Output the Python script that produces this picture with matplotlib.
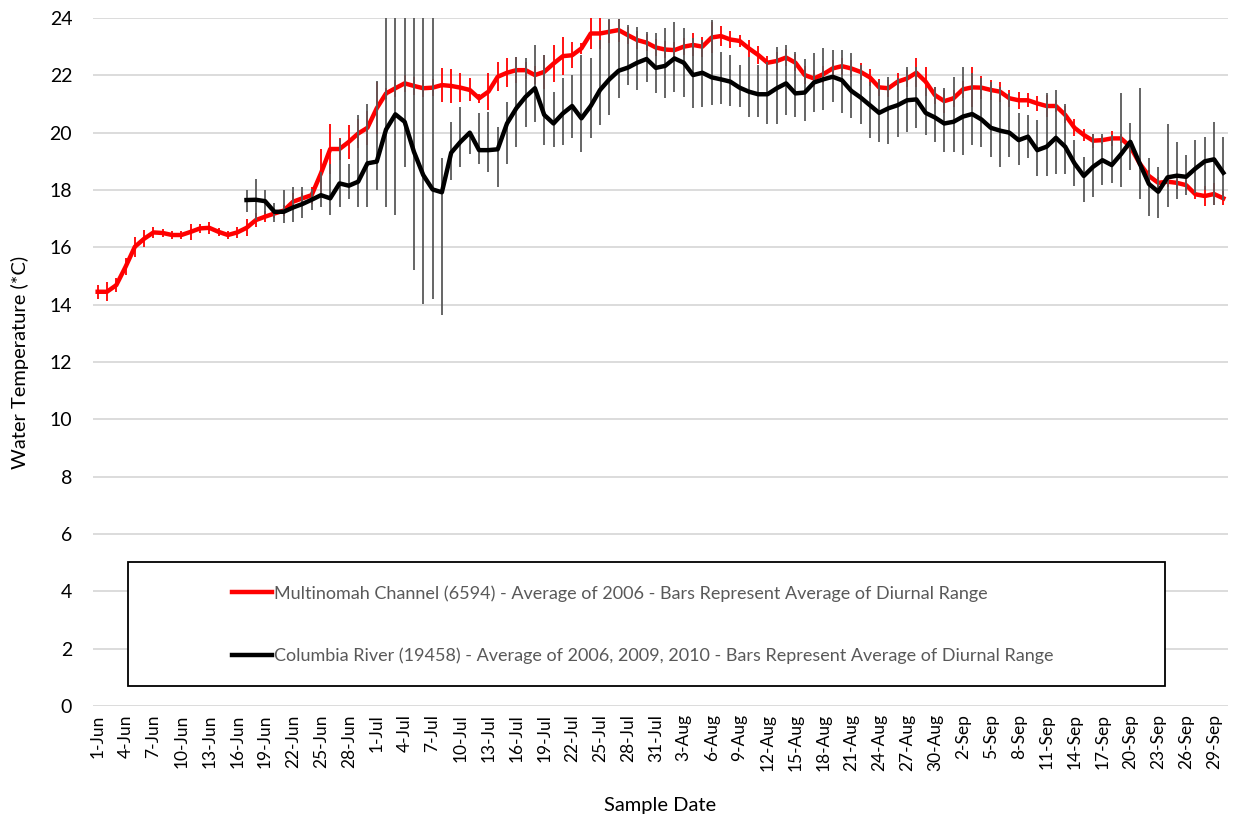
import numpy as np
import pandas as pd
import matplotlib
matplotlib.use("Agg")
import matplotlib.pyplot as plt
from matplotlib.patches import Rectangle

# ---------------- data ----------------
dates = pd.date_range("2006-06-01", "2006-09-30", freq="D")
date_labels = [f"{d.day}-{d.strftime('%b')}" for d in dates]

multnomah_label = "Multinomah Channel (6594) - Average of 2006 - Bars Represent Average of Diurnal Range"
columbia_label = "Columbia River (19458) - Average of 2006, 2009, 2010 - Bars Represent Average of Diurnal Range"

multnomah_avg = [
    14.45, 14.45, 14.68, 15.32, 16.02, 16.30, 16.52, 16.50, 16.43, 16.43,
    16.54, 16.66, 16.68, 16.54, 16.43, 16.52, 16.68, 16.95, 17.07, 17.18,
    17.28, 17.59, 17.71, 17.82, 18.58, 19.43, 19.43, 19.68, 19.97, 20.17,
    20.85, 21.37, 21.55, 21.72, 21.63, 21.55, 21.57, 21.66, 21.63, 21.57,
    21.49, 21.20, 21.43, 21.95, 22.09, 22.18, 22.18, 22.01, 22.12, 22.41,
    22.67, 22.70, 22.94, 23.46, 23.46, 23.52, 23.58, 23.40, 23.23, 23.14,
    22.97, 22.90, 22.88, 23.00, 23.06, 23.00, 23.32, 23.37, 23.25, 23.20,
    22.94, 22.71, 22.44, 22.50, 22.62, 22.44, 22.01, 21.89, 22.04, 22.24,
    22.32, 22.24, 22.12, 21.93, 21.58, 21.55, 21.78, 21.89, 22.09, 21.78,
    21.31, 21.10, 21.20, 21.51, 21.58, 21.57, 21.49, 21.43, 21.20, 21.13,
    21.13, 21.02, 20.93, 20.93, 20.62, 20.17, 19.92, 19.72, 19.74, 19.80,
    19.80, 19.51, 18.93, 18.49, 18.25, 18.29, 18.25, 18.17, 17.85, 17.79,
    17.86, 17.71,
]
multnomah_half_range = [
    0.25, 0.33, 0.25, 0.30, 0.35, 0.30, 0.20, 0.15, 0.15, 0.15,
    0.28, 0.15, 0.20, 0.15, 0.15, 0.20, 0.30, 0.25, 0.20, 0.15,
    0.20, 0.30, 0.20, 0.30, 0.85, 0.87, 0.40, 0.60, 0.50, 0.60,
    0.90, 0.20, 0.30, 0.30, 0.30, 0.30, 0.30, 0.58, 0.60, 0.50,
    0.40, 0.15, 0.65, 0.50, 0.50, 0.45, 0.30, 0.30, 0.60, 0.65,
    0.65, 0.45, 0.20, 0.55, 0.55, 0.40, 0.40, 0.30, 0.30, 0.30,
    0.30, 0.30, 0.30, 0.30, 0.40, 0.35, 0.55, 0.35, 0.30, 0.20,
    0.30, 0.30, 0.25, 0.30, 0.30, 0.30, 0.30, 0.30, 0.30, 0.30,
    0.30, 0.30, 0.30, 0.30, 0.30, 0.30, 0.30, 0.30, 0.50, 0.50,
    0.30, 0.40, 0.30, 0.30, 0.70, 0.40, 0.35, 0.35, 0.30, 0.30,
    0.25, 0.25, 0.40, 0.20, 0.30, 0.30, 0.20, 0.25, 0.15, 0.25,
    0.15, 0.20, 0.20, 0.20, 0.20, 0.20, 0.20, 0.20, 0.15, 0.35,
    0.40, 0.25,
]

columbia_start = "17-Jun"
columbia_avg = [
    17.65, 17.66, 17.61, 17.24, 17.24, 17.39, 17.51, 17.66, 17.82, 17.71,
    18.23, 18.15, 18.29, 18.93, 18.99, 20.11, 20.64, 20.38, 19.33, 18.52,
    18.02, 17.92, 19.30, 19.68, 20.00, 19.39, 19.39, 19.42, 20.32, 20.85,
    21.25, 21.55, 20.62, 20.32, 20.67, 20.93, 20.50, 20.93, 21.49, 21.86,
    22.16, 22.27, 22.44, 22.57, 22.26, 22.33, 22.59, 22.44, 22.01, 22.09,
    21.93, 21.86, 21.78, 21.57, 21.43, 21.34, 21.34, 21.55, 21.72, 21.37,
    21.40, 21.75, 21.86, 21.95, 21.83, 21.46, 21.23, 20.96, 20.69, 20.85,
    20.96, 21.13, 21.16, 20.69, 20.53, 20.32, 20.38, 20.56, 20.65, 20.46,
    20.17, 20.07, 20.00, 19.74, 19.86, 19.39, 19.51, 19.82, 19.51, 18.93,
    18.49, 18.81, 19.04, 18.87, 19.25, 19.68, 18.93, 18.21, 17.94, 18.44,
    18.50, 18.46, 18.75, 19.00, 19.07, 18.60,
]
columbia_high = [
    17.99, 18.40, 17.99, 17.53, 17.99, 18.11, 18.11, 18.05, 18.63, 18.92,
    19.79, 18.92, 20.60, 21.00, 21.80, 25.00, 25.00, 25.00, 25.00, 25.00,
    25.00, 19.10, 20.38, 20.90, 20.03, 20.68, 20.73, 20.21, 21.08, 22.65,
    22.60, 23.06, 22.70, 21.43, 21.90, 22.00, 22.70, 22.60, 23.23, 23.98,
    23.98, 23.75, 23.70, 23.52, 23.46, 23.64, 23.87, 23.64, 23.29, 23.23,
    23.93, 22.82, 22.70, 22.36, 22.65, 22.36, 22.47, 23.00, 23.05, 22.82,
    22.56, 22.77, 22.97, 22.90, 22.88, 22.77, 22.36, 21.78, 21.84, 21.95,
    21.90, 22.30, 22.30, 21.55, 21.60, 21.55, 21.95, 22.30, 22.07, 21.90,
    21.78, 21.60, 21.37, 20.70, 20.62, 20.44, 21.37, 21.50, 20.99, 19.76,
    19.16, 19.97, 19.97, 19.92, 21.37, 20.32, 21.55, 19.13, 18.80, 20.30,
    19.68, 19.22, 19.74, 19.86, 20.38, 19.86,
]
columbia_low = [
    17.24, 16.95, 17.18, 16.90, 16.84, 16.90, 17.01, 17.30, 17.42, 17.13,
    17.42, 17.70, 17.42, 17.42, 17.99, 17.42, 17.13, 18.80, 15.20, 14.04,
    14.21, 13.64, 18.35, 18.80, 19.27, 18.92, 18.63, 18.11, 18.92, 19.50,
    20.20, 20.38, 19.57, 19.50, 19.57, 19.80, 19.34, 19.80, 20.26, 20.60,
    21.20, 21.66, 21.49, 21.78, 21.37, 21.20, 21.43, 21.26, 20.85, 20.90,
    20.96, 21.00, 20.93, 20.90, 20.56, 20.56, 20.30, 20.30, 20.60, 20.56,
    20.42, 20.73, 20.79, 21.08, 20.68, 20.50, 20.30, 19.80, 19.68, 19.62,
    19.86, 20.03, 20.15, 19.92, 19.68, 19.33, 19.33, 19.22, 19.57, 19.50,
    19.16, 18.80, 19.16, 18.86, 19.10, 18.50, 18.50, 18.57, 18.57, 18.13,
    17.59, 17.74, 18.17, 18.23, 18.11, 18.69, 17.70, 17.10, 17.01, 17.42,
    17.68, 17.82, 17.88, 17.99, 17.48, 17.65,
]

y_ticks = [0, 2, 4, 6, 8, 10, 12, 14, 16, 18, 20, 22, 24]

# ---------------- figure ----------------
plt.rcParams["font.family"] = ["Lato", "DejaVu Sans"]
W, H = 1238, 823
fig = plt.figure(figsize=(W / 100, H / 100), dpi=100)
left, right, top, bottom = 93, 1228, 18, 706
ax = fig.add_axes([left / W, 1 - bottom / H, (right - left) / W, (bottom - top) / H])

x_all = np.arange(len(dates))
i0 = date_labels.index(columbia_start)
x_col = x_all[i0:i0 + len(columbia_avg)]

red = "#ff0000"
ax.errorbar(x_all, multnomah_avg, yerr=multnomah_half_range, fmt="none",
            ecolor=red, elinewidth=1.3, capsize=0, zorder=2)
ax.plot(x_all, multnomah_avg, color=red, lw=3.2, zorder=3,
        solid_joinstyle="round", label=multnomah_label)

col = np.array(columbia_avg)
yerr = [col - np.array(columbia_low), np.array(columbia_high) - col]
ax.errorbar(x_col, col, yerr=yerr, fmt="none", ecolor="#595959",
            elinewidth=1.3, capsize=0, zorder=4)
ax.plot(x_col, col, color="black", lw=3.2, zorder=5,
        solid_joinstyle="round", label=columbia_label)

ax.set_xlim(-0.5, len(dates) - 0.5)
ax.set_ylim(0, 24)
ax.set_yticks(y_ticks)
ax.set_xticks(x_all[::3])
ax.set_xticklabels(np.array(date_labels)[::3], rotation=90)
ax.grid(axis="y", color="#d9d9d9", lw=1.3)
ax.set_axisbelow(True)
for s in ax.spines.values():
    s.set_visible(False)
ax.tick_params(axis="y", length=0, labelsize=14, pad=15, colors="black")
ax.tick_params(axis="x", length=0, labelsize=12.5, pad=6, colors="black")

fig.text(20 / W, 1 - 362 / H, "Water Temperature (*C)", rotation=90,
         ha="center", va="center", fontsize=14.5)
fig.text(660 / W, 1 - 805 / H, "Sample Date", ha="center", va="center",
         fontsize=14.5)

# legend box
fig.add_artist(Rectangle((128 / W, 1 - 686 / H), 1037 / W, 124 / H,
                         transform=fig.transFigure, facecolor="white",
                         edgecolor="black", lw=1.3, zorder=6))
handles, labels = ax.get_legend_handles_labels()
leg = fig.legend(handles, labels, loc="upper left",
                 bbox_to_anchor=(232 / W, 1 - 585 / H), frameon=False,
                 borderpad=0, borderaxespad=0, handlelength=2.2,
                 handletextpad=0.15, labelspacing=2.55, fontsize=13.0,
                 labelcolor="#595959")
leg.set_zorder(7)

fig.savefig("out.png", dpi=100)
